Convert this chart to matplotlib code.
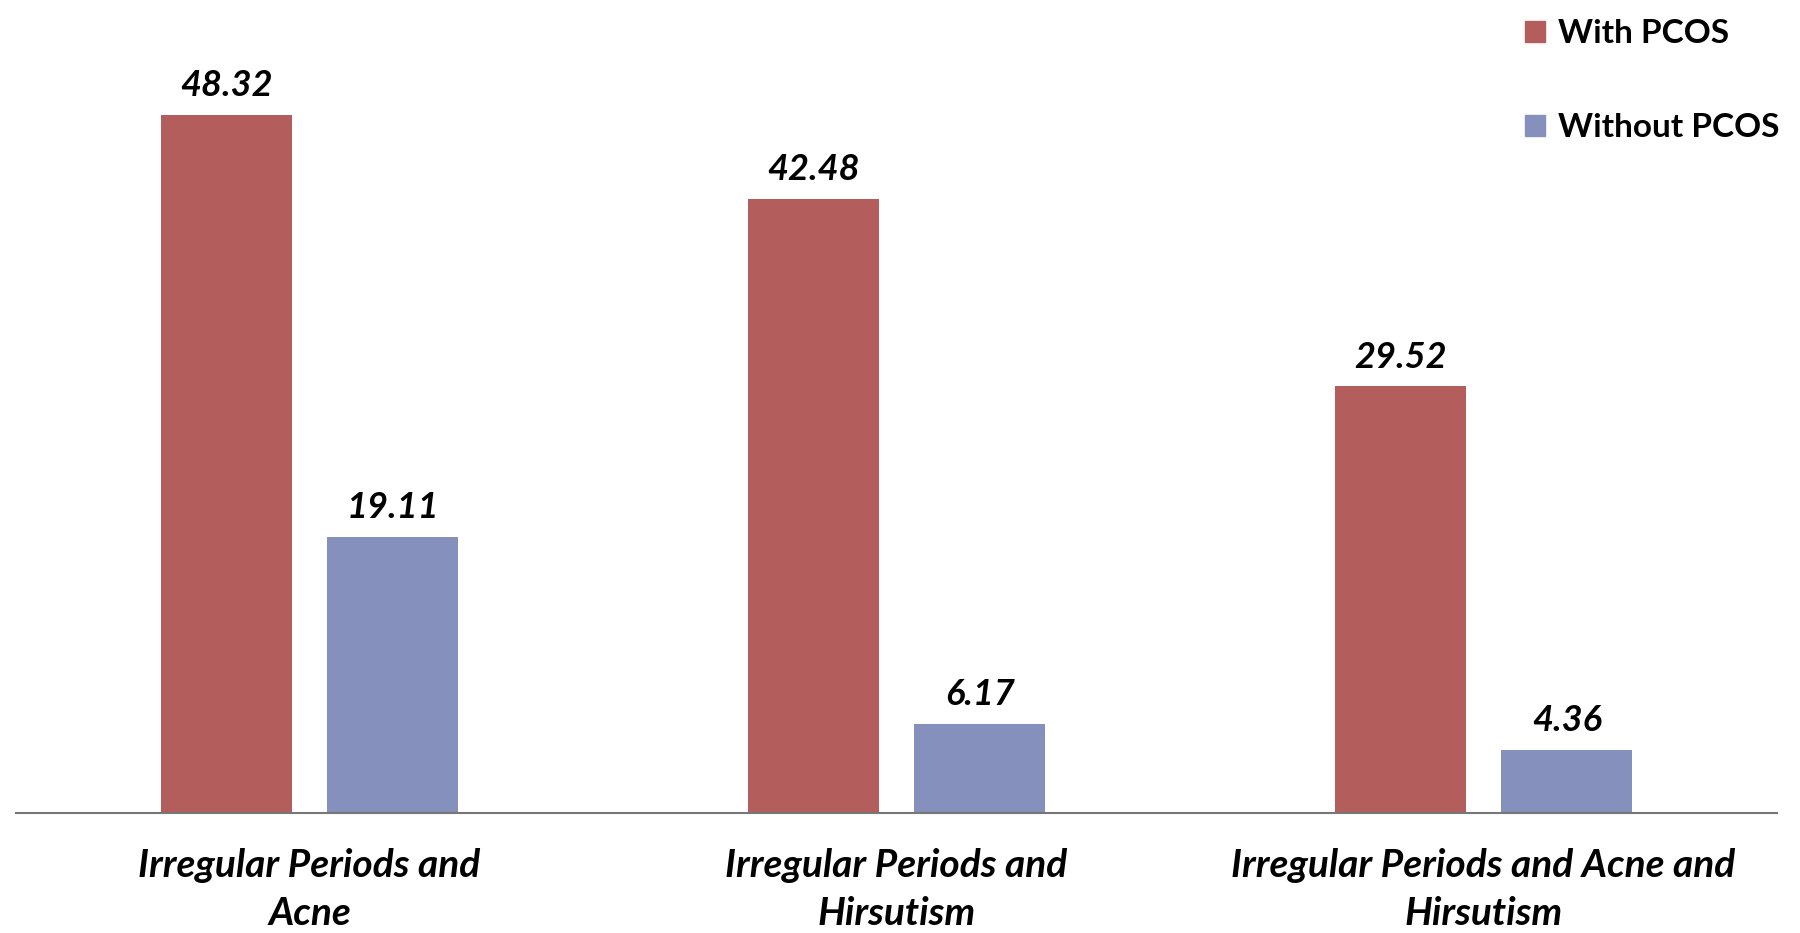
import matplotlib.pyplot as plt
import numpy as np
from matplotlib.patches import Patch

# Data
categories = ['Irregular Periods and\nAcne',
              'Irregular Periods and\nHirsutism',
              'Irregular Periods and Acne and\nHirsutism']
with_pcos = [48.32, 42.48, 29.52]
without_pcos = [19.11, 6.17, 4.36]

red = '#B35E5D'
blue = '#8591BC'

plt.rcParams['font.family'] = ['Lato', 'DejaVu Sans']

fig = plt.figure(figsize=(18, 9.33), dpi=100)
# axes placed in pixel terms: left 16, right 1777, bottom 813, top ~18
ax = fig.add_axes([16 / 1800, (933 - 813) / 933, (1777 - 16) / 1800, 795 / 933])

x = np.arange(len(categories))
w = 0.223
off = 0.142
b1 = ax.bar(x - off, with_pcos, w, color=red)
b2 = ax.bar(x + off, without_pcos, w, color=blue)

for bars in (b1, b2):
    for r in bars:
        ax.annotate(f'{r.get_height():.2f}', (r.get_x() + r.get_width() / 2, r.get_height()),
                    xytext=(0, 9), textcoords='offset points', ha='center', va='bottom',
                    fontsize=26, fontweight='bold', fontstyle='italic')

ax.set_xlim(-0.5, 2.5)
ax.set_ylim(0, 55)
ax.set_yticks([])
ax.set_xticks(x)
ax.set_xticklabels(categories, fontsize=28, fontweight='bold', fontstyle='italic', linespacing=1.45)
ax.tick_params(axis='x', length=0, pad=25)
for s in ('top', 'right', 'left'):
    ax.spines[s].set_visible(False)
ax.spines['bottom'].set_color('#777777')
ax.spines['bottom'].set_linewidth(1.5)

handles = [Patch(color=red, label='With PCOS'), Patch(color=blue, label='Without PCOS')]
fig.legend(handles=handles, loc='upper left', bbox_to_anchor=(1508 / 1800, 0.997),
           frameon=False, prop={'size': 24, 'weight': 'bold'},
           handlelength=0.6, handleheight=0.6, handletextpad=0.4, labelspacing=1.95,
           borderaxespad=0.1)

fig.savefig('out.png', dpi=100)
